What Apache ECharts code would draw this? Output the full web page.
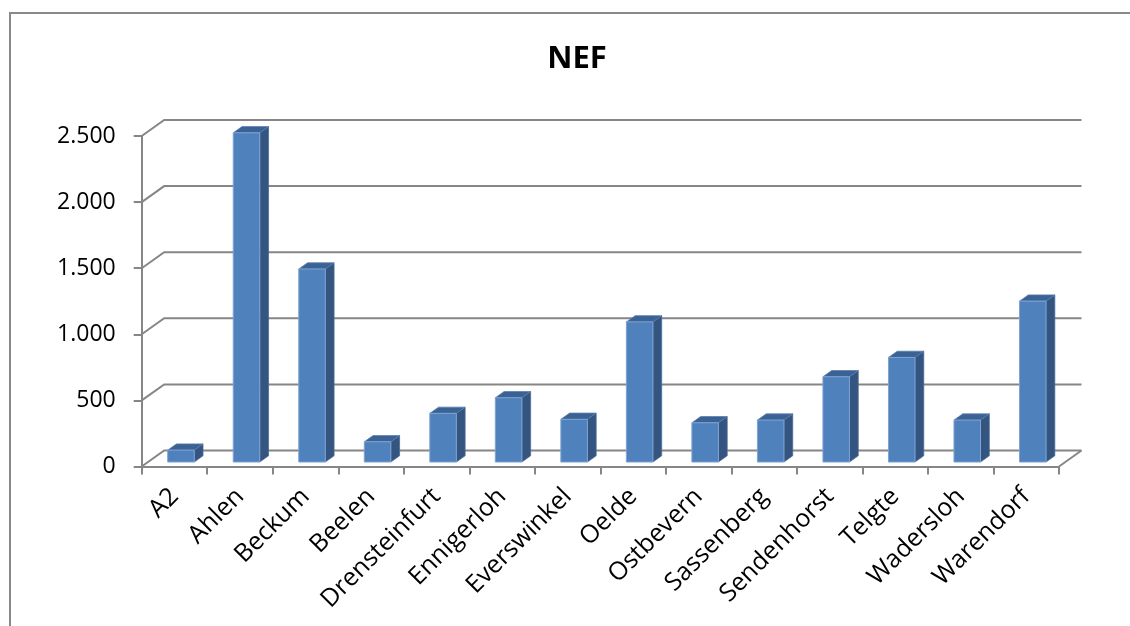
<!DOCTYPE html>
<html>
<head>
<meta charset="utf-8">
<script src="https://cdn.jsdelivr.net/npm/echarts@6/dist/echarts.min.js"></script>
<style>
html,body{margin:0;padding:0;background:#fff;}
#chart{width:1130px;height:626px;}
</style>
</head>
<body>
<div id="chart"></div>
<script>
const categories = ['A2','Ahlen','Beckum','Beelen','Drensteinfurt','Ennigerloh','Everswinkel','Oelde','Ostbevern','Sassenberg','Sendenhorst','Telgte','Wadersloh','Warendorf'];
const values = [90, 2490, 1460, 153, 368, 486, 323, 1060, 297, 317, 645, 791, 317, 1217];
const yTicks = [0, 500, 1000, 1500, 2000, 2500];
const titleText = 'NEF';

const DX = 22.5, DY = 16;           // 3D depth offset (styling)
const GRID_COLOR = '#868686';
const N = categories.length;

const chart = echarts.init(document.getElementById('chart'), null, {renderer: 'canvas'});

const option = {
  backgroundColor: '#ffffff',
  animation: false,
  graphic: [
    {
      type: 'rect',
      shape: {x: 10, y: 13, width: 1200, height: 700},
      style: {fill: 'none', stroke: '#898989', lineWidth: 2},
      silent: true
    },
    {
      type: 'text',
      x: 577, y: 59,
      style: {
        text: titleText, x: 0, y: 0,
        align: 'center', verticalAlign: 'middle',
        font: 'bold 31px "Open Sans"', fill: '#000'
      },
      silent: true
    }
  ],
  grid: {left: 141.7, right: 71, top: 136, bottom: 159.5, containLabel: false},
  xAxis: {
    type: 'category',
    data: categories,
    boundaryGap: true,
    axisLine: {show: true, lineStyle: {color: GRID_COLOR, width: 2}},
    axisTick: {show: true, length: 8, lineStyle: {color: GRID_COLOR, width: 2}},
    axisLabel: {rotate: 45, margin: 26, fontFamily: 'Open Sans', fontSize: 25, color: '#000', interval: 0},
    splitLine: {show: false}
  },
  yAxis: {
    type: 'value',
    min: 0, max: 2500, interval: 500,
    axisLine: {show: true, lineStyle: {color: GRID_COLOR, width: 2}},
    axisTick: {show: true, length: 8, lineStyle: {color: GRID_COLOR, width: 2}},
    axisLabel: {
      margin: 26, fontFamily: 'Open Sans', fontSize: 23, color: '#000',
      formatter: v => v.toLocaleString('de-DE')
    },
    splitLine: {show: false}
  },
  series: [
    {
      type: 'custom',
      z: 1,
      clip: false,
      silent: true,
      data: yTicks.map(v => [0, v]),
      encode: {x: 0, y: 1},
      renderItem: function (params, api) {
        const v = api.value(1);
        const p = api.coord([0, v]);
        const band = api.size([1, 0])[0];
        const x0 = p[0] - band / 2;
        const xEnd = api.coord([N - 1, v])[0] + band / 2;
        const y = p[1];
        const children = [{
          type: 'polyline',
          shape: {points: [[x0, y], [x0 + DX, y - DY], [xEnd + DX, y - DY]]},
          style: {stroke: GRID_COLOR, lineWidth: 2, fill: null}
        }];
        if (v === 0) {
          children.push({
            type: 'line',
            shape: {x1: xEnd, y1: y, x2: xEnd + DX, y2: y - DY},
            style: {stroke: GRID_COLOR, lineWidth: 2}
          });
        }
        return {type: 'group', children: children};
      }
    },
    {
      type: 'custom',
      z: 2,
      clip: false,
      data: values.map((v, i) => [i, v]),
      encode: {x: 0, y: 1},
      renderItem: function (params, api) {
        const i = api.value(0), v = api.value(1);
        const base = api.coord([i, 0]);
        const top = api.coord([i, v]);
        const band = api.size([1, 0])[0];
        const w = band * 0.405;
        const fx = DX * 0.29, fy = DY * 0.28;
        const ddx = DX * 0.39, ddy = DY * 0.39;
        const xL = base[0] - w / 2 + fx;
        const xR = xL + w;
        const yB = base[1] - fy;
        const yT = top[1] - fy;
        return {
          type: 'group',
          children: [
            {
              type: 'polygon',
              shape: {points: [[xR, yT], [xR + ddx, yT - ddy], [xR + ddx, yB - ddy], [xR, yB]]},
              style: {fill: '#33557F', stroke: '#4A6C98', lineWidth: 0.8}
            },
            {
              type: 'polygon',
              shape: {points: [[xL, yT], [xR, yT], [xR + ddx, yT - ddy], [xL + ddx, yT - ddy]]},
              style: {fill: '#3B6294', stroke: '#5A7FAF', lineWidth: 0.8}
            },
            {
              type: 'rect',
              shape: {x: xL, y: yT, width: w, height: yB - yT},
              style: {fill: '#4F81BD', stroke: '#7FA3D2', lineWidth: 1}
            }
          ]
        };
      }
    }
  ]
};

chart.setOption(option);
</script>
</body>
</html>
